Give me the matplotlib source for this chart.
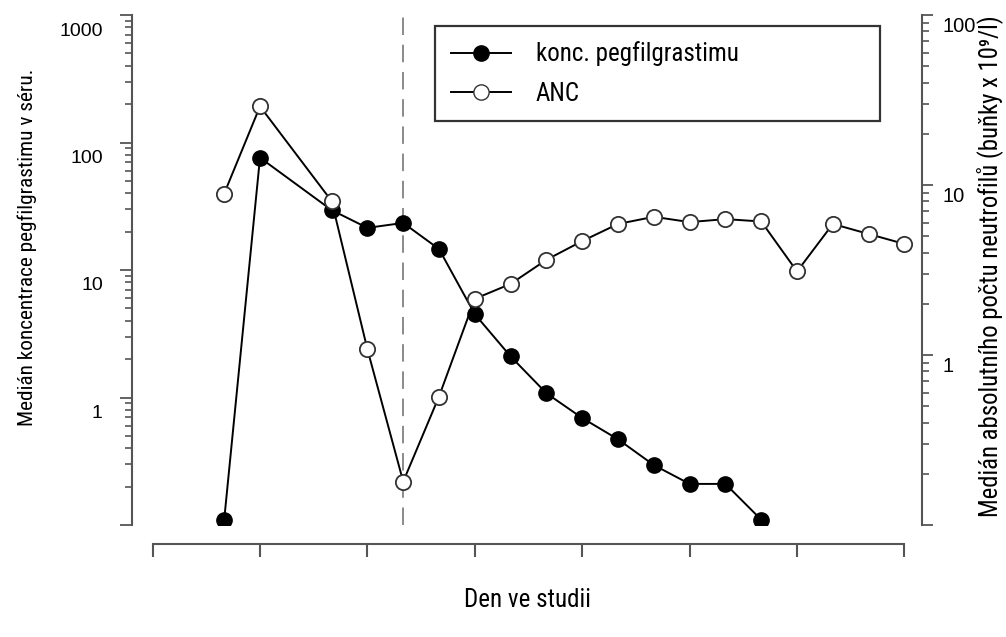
import matplotlib
matplotlib.use("Agg")
import matplotlib.pyplot as plt
from matplotlib import transforms
from matplotlib.ticker import LogLocator, NullFormatter, FixedLocator, FixedFormatter
from matplotlib.lines import Line2D

# data
days_peg = [-1, 0, 2, 3, 4, 5, 6, 7, 8, 9, 10, 11, 12, 13, 14]
peg_conc = [0.11, 76, 29.5, 21.4, 23.4, 14.6, 4.5, 2.1, 1.08, 0.69, 0.47, 0.295, 0.21, 0.21, 0.11]
days_anc = [-1, 0, 2, 3, 4, 5, 6, 7, 8, 9, 10, 11, 12, 13, 14, 15, 16, 17, 18]
anc = [8.9, 29, 8.05, 1.08, 0.18, 0.57, 2.14, 2.62, 3.63, 4.68, 5.9, 6.5, 6.05, 6.3, 6.1, 3.1, 5.9, 5.15, 4.5]
x_ticks = [-3, 0, 3, 6, 9, 12, 15, 18]
left_ticks = [1, 10, 100, 1000]
left_labels = ["1", "10", "100", "1000"]
right_ticks = [1, 10, 100]
right_labels = ["1", "10", "100"]
dose_day = 4

tick_font = ["Liberation Sans", "DejaVu Sans"]
label_font = ["Liberation Sans Narrow", "Roboto Condensed", "Liberation Sans", "DejaVu Sans"]
grey = "#555555"

W, H = 1006, 637
fig = plt.figure(figsize=(W / 100, H / 100), dpi=100)
ax = fig.add_axes([132 / W, 1 - 525 / H, (922 - 132) / W, (525 - 15) / H])
ax2 = ax.twinx()

ax.set_xlim(-3.575, 18.49)
ax.set_yscale("log")
ax.set_ylim(0.1, 1000)
ax2.set_yscale("log")
ax2.set_ylim(0.1, 100)

ax.axvline(dose_day, color="#8a8a8a", lw=1.4, dashes=(9, 5), zorder=1)

ax.plot(days_peg, peg_conc, color="black", lw=1.4, marker="o", ms=11,
        mfc="black", mec="black", zorder=3)
ax2.plot(days_anc, anc, color="black", lw=1.4, marker="o", ms=11,
         mfc="white", mec="#333333", mew=1.3, zorder=3)

# spines
for a in (ax, ax2):
    a.spines["top"].set_visible(False)
    a.spines["bottom"].set_visible(False)
    a.patch.set_visible(False)
ax.spines["right"].set_visible(False)
ax2.spines["left"].set_visible(False)
ax.spines["left"].set_color(grey)
ax.spines["left"].set_linewidth(1.5)
ax2.spines["right"].set_color(grey)
ax2.spines["right"].set_linewidth(1.5)

ax.spines["bottom"].set_visible(True)
ax.spines["bottom"].set_position(("outward", 14))
ax.spines["bottom"].set_bounds(x_ticks[0], x_ticks[-1])
ax.spines["bottom"].set_color(grey)
ax.spines["bottom"].set_linewidth(1.5)
ax.set_xticks(x_ticks)
ax.set_xticklabels([])
ax.tick_params(axis="x", direction="out", length=9, width=1.5, color=grey)

# y ticks
ax.yaxis.set_major_locator(FixedLocator(left_ticks + [0.1]))
ax.yaxis.set_major_formatter(FixedFormatter(left_labels + [""]))
ax.yaxis.set_minor_locator(LogLocator(base=10, subs=range(2, 10), numticks=20))
ax.yaxis.set_minor_formatter(NullFormatter())
ax.tick_params(axis="y", which="major", direction="out", length=9, width=1.3,
               color=grey, pad=12, labelsize=14)
ax.tick_params(axis="y", which="minor", direction="out", length=5, width=1.2, color=grey)

ax2.yaxis.set_major_locator(FixedLocator(right_ticks + [0.1]))
ax2.yaxis.set_major_formatter(FixedFormatter(right_labels + [""]))
ax2.yaxis.set_minor_locator(LogLocator(base=10, subs=range(2, 10), numticks=20))
ax2.yaxis.set_minor_formatter(NullFormatter())
ax2.tick_params(axis="y", which="major", direction="out", length=8, width=1.3,
                color=grey, pad=7, labelsize=14.5)
ax2.tick_params(axis="y", which="minor", direction="out", length=5, width=1.2, color=grey)

shift_l = transforms.ScaledTranslation(0, -14 / 100, fig.dpi_scale_trans)
shift_r = transforms.ScaledTranslation(0, -9 / 100, fig.dpi_scale_trans)
for lab in ax.get_yticklabels():
    lab.set_family(tick_font)
    lab.set_transform(lab.get_transform() + shift_l)
for lab in ax2.get_yticklabels():
    lab.set_family(tick_font)
    lab.set_transform(lab.get_transform() + shift_r)

# axis titles
fig.text(27 / W, 1 - 247 / H, "Medián koncentrace pegfilgrastimu v séru.",
         rotation=90, ha="center", va="center", fontsize=15.3, family=label_font)
fig.text(990 / W, 1 - 266 / H, "Medián absolutního počtu neutrofilů (buňky x 10⁹/l)",
         rotation=90, ha="center", va="center", fontsize=17.8, family=label_font)
fig.text(527 / W, 1 - 600 / H, "Den ve studii",
         ha="center", va="center", fontsize=18, family=label_font)

# legend
handles = [
    Line2D([], [], color="black", lw=1.4, marker="o", ms=11, mfc="black", mec="black"),
    Line2D([], [], color="black", lw=1.4, marker="o", ms=11, mfc="white", mec="#333333"),
]
leg = fig.legend(handles, ["konc. pegfilgrastimu", "ANC"],
                 loc="upper left",
                 bbox_to_anchor=(435 / W, 1 - 111 / H, (880 - 435) / W, (111 - 26) / H),
                 mode="expand", borderaxespad=0, borderpad=0.62,
                 handlelength=2.4, handletextpad=1.0, labelspacing=0.62,
                 fancybox=False, prop={"family": label_font, "size": 18})
leg.get_frame().set_edgecolor("black")
leg.get_frame().set_linewidth(1.6)

fig.savefig("out.png", dpi=100)
